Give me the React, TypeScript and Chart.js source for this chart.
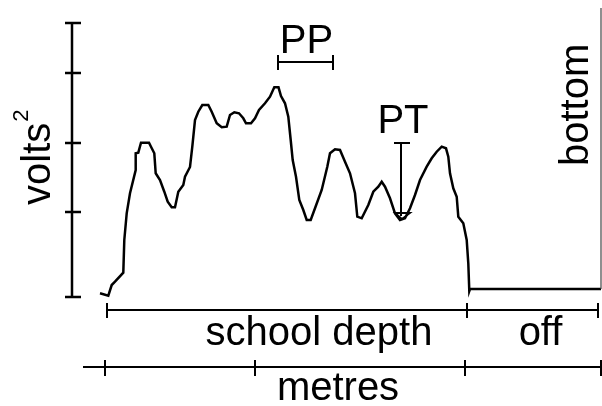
import React, { useEffect, useRef } from "react";
import { Chart, registerables } from "chart.js";

Chart.register(...registerables);

// Echo integration trace: depth position vs. squared voltage (arbitrary units)
const depth = [
  100, 108.3, 111.7, 115, 123.3, 124.3, 126.7, 130, 135.7, 135.7, 138.3, 141, 149, 151, 154.3, 155.7,
  160, 164.3, 167.7, 171.7, 175, 178.3, 183.3, 185, 190, 192.3, 195, 198.3, 202.3, 208.3, 211.7,
  216.7, 221.7, 226.7, 230, 234.3, 239, 243.3, 246, 251, 255, 259, 265, 270, 274.3, 278.5, 281,
  285, 288.3, 290.7, 292.7, 296, 299.3, 303.3, 306.7, 310.7, 315, 321.7, 327.3, 330, 335, 340,
  345, 350, 355, 357.3, 361.7, 368.3, 373.3, 378.3, 381.7, 385, 390, 395, 400, 405, 410, 415,
  420, 426.7, 431.7, 436.7, 441.7, 446, 448.3, 450, 453.3, 456.7, 458.3, 463.3, 466.7, 468.3,
  469.3, 470, 601,
];
const volts2 = [
  3.7, 1.3, 12, 15.3, 24.3, 57, 83.7, 103.7, 127, 143.7, 144.3, 154.3, 154.3, 150.3, 143.7, 123.7,
  117, 105.3, 95.3, 89.7, 89.7, 105.3, 112, 120.3, 130, 150.3, 177, 185.3, 192, 192, 185.3,
  173.7, 169.7, 170.3, 182, 184.7, 183.7, 178.7, 173.7, 173.7, 178.7, 187, 193.7, 200.3, 209.7, 209.7, 201,
  193.7, 180.3, 157, 137, 120.3, 97, 87, 77, 77, 88.7, 107, 130.3, 143.7, 147.7, 147,
  135.3, 123.7, 103.7, 80.3, 78.7, 92, 105.3, 110.3, 115.3, 110.3, 98.7, 83.7, 77, 78.7, 88.7, 102,
  117, 130.3, 138.7, 145.3, 150.3, 148.7, 140.3, 123.7, 108.7, 100.3, 80.3, 73.7, 57, 33.7,
  6, 8, 8,
];

const yTickValues = [0, 85, 154, 224, 274];
const schoolBounds = [107, 467, 598];
const schoolLabels = ["school depth", "off"];
const metreTicks = [105, 255, 465, 601];
const xTitle = "metres";
const yTitle = "volts";
const ppRange = [278, 333];
const ppLevel = 235;
const ptDepth = 401;
const ptRange = [79, 154];
const bottomDepth = 601;
const bottomLevel = 8;

const annotate = {
  id: "annotate",
  afterDraw(chart: any) {
    const { ctx, chartArea } = chart;
    const xs = chart.scales.x;
    const ys = chart.scales.y;
    const X = (v: number) => xs.getPixelForValue(v);
    const Y = (v: number) => ys.getPixelForValue(v);
    ctx.save();
    ctx.strokeStyle = "#000";
    ctx.fillStyle = "#000";
    ctx.lineCap = "butt";
    const font = "40px 'Liberation Sans', Arial, sans-serif";

    // y axis
    ctx.lineWidth = 2.5;
    ctx.beginPath();
    ctx.moveTo(chartArea.left, Y(yTickValues[yTickValues.length - 1]));
    ctx.lineTo(chartArea.left, Y(yTickValues[0]));
    for (const t of yTickValues) {
      ctx.moveTo(chartArea.left - 7, Y(t));
      ctx.lineTo(chartArea.left + 9, Y(t));
    }
    ctx.stroke();

    // y title
    ctx.save();
    ctx.translate(50, 205);
    ctx.rotate(-Math.PI / 2);
    ctx.font = font;
    ctx.textAlign = "left";
    ctx.textBaseline = "alphabetic";
    ctx.fillText(yTitle, 0, 0);
    const w = ctx.measureText(yTitle).width;
    ctx.font = "22px 'Liberation Sans', Arial, sans-serif";
    ctx.fillText("2", w + 1, -22);
    ctx.restore();

    // school depth bracket
    const by = chartArea.bottom + 13;
    ctx.lineWidth = 2;
    ctx.beginPath();
    ctx.moveTo(X(schoolBounds[0]), by);
    ctx.lineTo(X(schoolBounds[schoolBounds.length - 1]), by);
    for (const b of schoolBounds) {
      ctx.moveTo(X(b), by - 7);
      ctx.lineTo(X(b), by + 8);
    }
    ctx.stroke();
    ctx.font = font;
    ctx.textAlign = "center";
    ctx.textBaseline = "alphabetic";
    for (let i = 0; i < schoolLabels.length; i++) {
      const cx = (X(schoolBounds[i]) + X(schoolBounds[i + 1])) / 2;
      ctx.fillText(schoolLabels[i], cx + (i === 0 ? 32 : 8), by + 35);
    }

    // metres axis
    const my = chartArea.bottom + 70;
    ctx.beginPath();
    ctx.moveTo(83, my);
    ctx.lineTo(X(metreTicks[metreTicks.length - 1]), my);
    for (const t of metreTicks) {
      ctx.moveTo(X(t), my - 7);
      ctx.lineTo(X(t), my + 9);
    }
    ctx.stroke();
    ctx.fillText(xTitle, 338, my + 33);

    // PP bracket
    const py = Y(ppLevel);
    ctx.beginPath();
    ctx.moveTo(X(ppRange[0]), py);
    ctx.lineTo(X(ppRange[1]), py);
    ctx.moveTo(X(ppRange[0]), py - 7);
    ctx.lineTo(X(ppRange[0]), py + 8);
    ctx.moveTo(X(ppRange[1]), py - 7);
    ctx.lineTo(X(ppRange[1]), py + 8);
    ctx.stroke();
    ctx.fillText("PP", (X(ppRange[0]) + X(ppRange[1])) / 2 + 1, py - 9);

    // PT marker
    const px = X(ptDepth);
    ctx.beginPath();
    ctx.moveTo(px, Y(ptRange[1]));
    ctx.lineTo(px, Y(ptRange[0]) - 2);
    ctx.moveTo(px - 7, Y(ptRange[1]));
    ctx.lineTo(px + 9, Y(ptRange[1]));
    ctx.stroke();
    ctx.lineWidth = 1.8;
    ctx.beginPath();
    ctx.moveTo(px - 6, Y(ptRange[0]) - 5);
    ctx.lineTo(px + 9, Y(ptRange[0]) - 5);
    ctx.lineTo(px + 1, Y(ptRange[0]) + 1);
    ctx.closePath();
    ctx.stroke();
    ctx.fillText("PT", px + 2, Y(ptRange[1]) - 10);

    // bottom marker
    ctx.strokeStyle = "#444";
    ctx.lineWidth = 1.2;
    ctx.beginPath();
    ctx.moveTo(X(bottomDepth), 8);
    ctx.lineTo(X(bottomDepth), Y(bottomLevel));
    ctx.stroke();
    ctx.save();
    ctx.translate(588, 166);
    ctx.rotate(-Math.PI / 2);
    ctx.font = font;
    ctx.textAlign = "left";
    ctx.fillText("bottom", 0, 0);
    ctx.restore();

    ctx.restore();
  },
};

export default function App() {
  const ref = useRef<HTMLCanvasElement | null>(null);
  useEffect(() => {
    if (!ref.current) return;
    const chart = new Chart(ref.current, {
      type: "line",
      data: {
        datasets: [
          {
            data: depth.map((d, i) => ({ x: d, y: volts2[i] })),
            borderColor: "#000",
            borderWidth: 2.5,
            pointRadius: 0,
            tension: 0,
            fill: false,
          },
        ],
      },
      options: {
        animation: false,
        responsive: false,
        clip: false as any,
        layout: { padding: { left: 72, right: 1, top: 23, bottom: 109 } },
        plugins: { legend: { display: false }, tooltip: { enabled: false } },
        scales: {
          x: { type: "linear", min: 72, max: 601, display: false },
          y: { type: "linear", min: 0, max: 274, display: false },
        },
      },
      plugins: [annotate],
    });
    return () => chart.destroy();
  }, []);
  return (
    <div style={{ position: "absolute", left: 0, top: 0, width: 602, height: 406, background: "#fff" }}>
      <canvas ref={ref} width={602} height={406} style={{ width: 602, height: 406 }} />
    </div>
  );
}
